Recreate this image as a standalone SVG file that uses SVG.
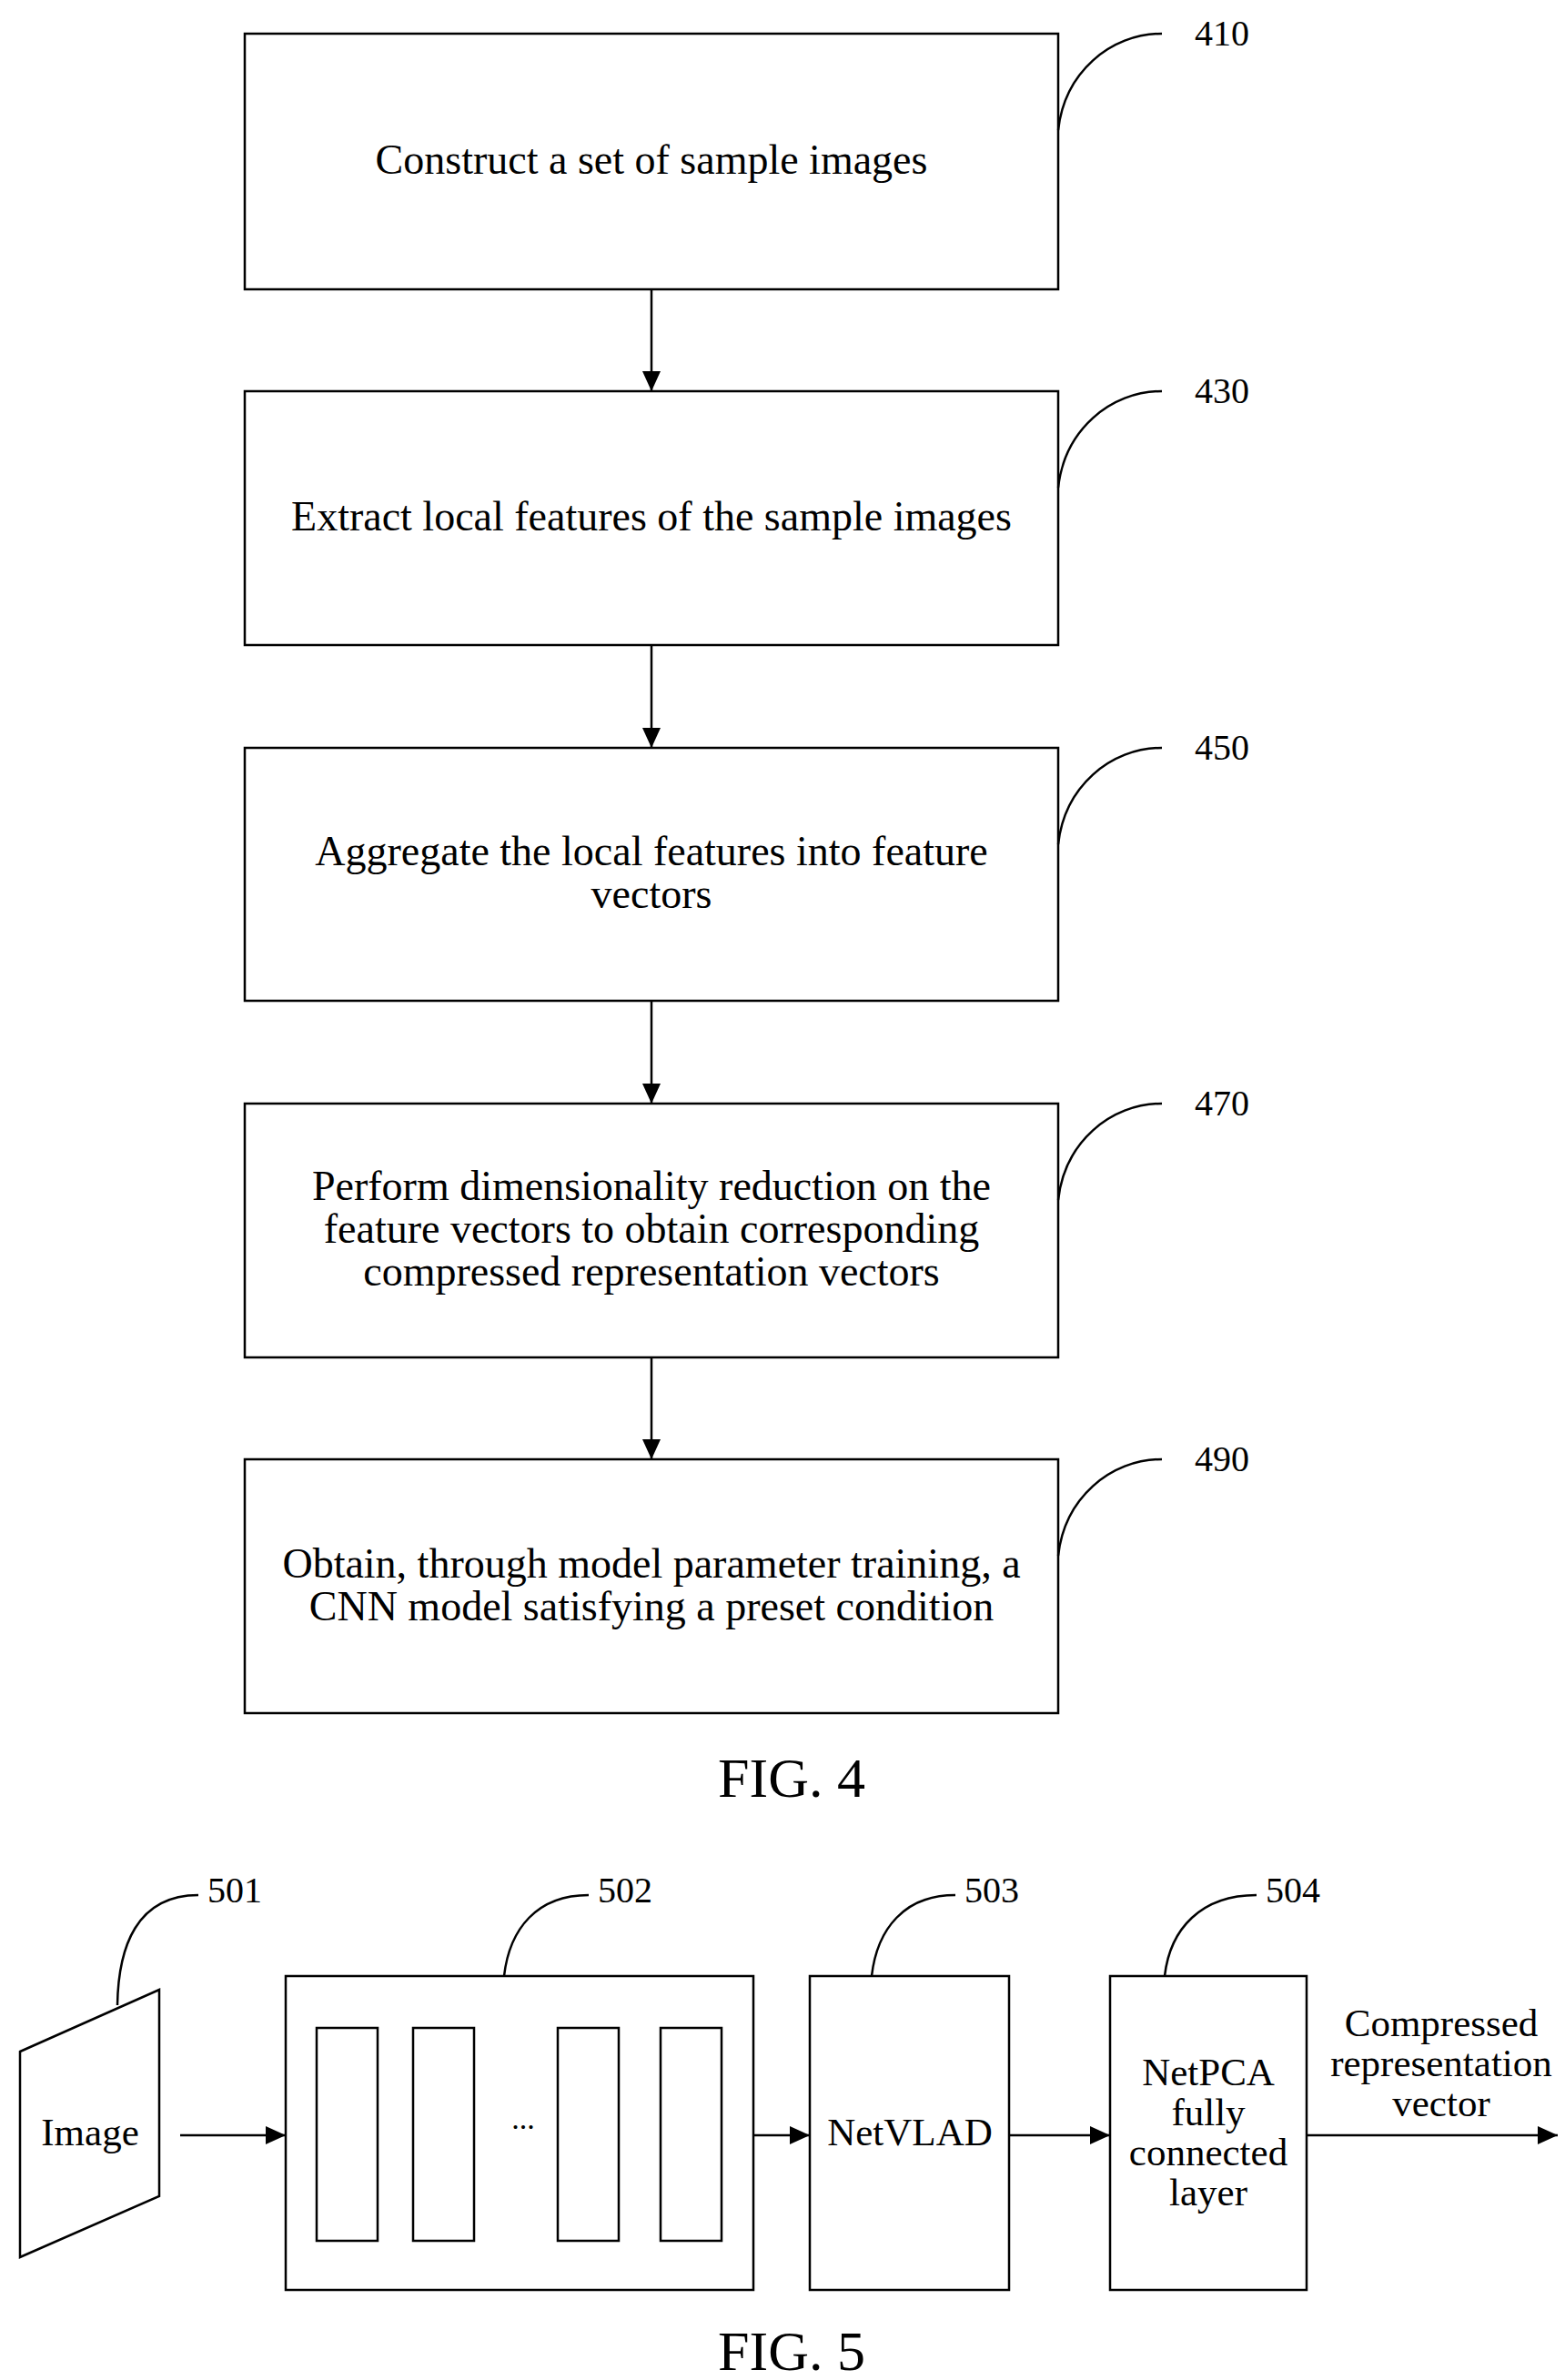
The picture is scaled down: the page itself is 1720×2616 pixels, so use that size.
<svg xmlns="http://www.w3.org/2000/svg" width="1720" height="2616" viewBox="0 0 1720 2616">
<style>
.b{fill:#fff;stroke:#000;stroke-width:2.5}
.l{fill:none;stroke:#000;stroke-width:2.5}
text{font-family:"Liberation Serif",serif;fill:#000;text-anchor:middle;font-size:43px}
.t{font-size:46px}
.n{font-size:40px;text-anchor:start}
.f{font-size:62px}
</style>
<defs><marker id="a2" markerWidth="22" markerHeight="20" refX="22" refY="10" orient="auto" markerUnits="userSpaceOnUse"><path d="M0,0L22,10L0,20z" fill="#000"/></marker></defs>
<rect width="1720" height="2616" fill="#fff"/>
<g id="n410"><rect class="b" x="269" y="37" width="894" height="281"/><text class="t" x="716" y="191">Construct a set of sample images</text><path class="l" d="M1163,143C1170,80 1220,37 1277,37"/><text class="n" x="1313" y="50">410</text></g>
<g id="n430"><rect class="b" x="269" y="430" width="894" height="279"/><text class="t" x="716" y="583">Extract local features of the sample images</text><path class="l" d="M1163,536C1170,473 1220,430 1277,430"/><text class="n" x="1313" y="443">430</text></g>
<g id="n450"><rect class="b" x="269" y="822" width="894" height="278"/><text class="t" x="716" y="951">Aggregate the local features into feature</text><text class="t" x="716" y="998">vectors</text><path class="l" d="M1163,928C1170,865 1220,822 1277,822"/><text class="n" x="1313" y="835">450</text></g>
<g id="n470"><rect class="b" x="269" y="1213" width="894" height="279"/><text class="t" x="716" y="1319">Perform dimensionality reduction on the</text><text class="t" x="716" y="1366">feature vectors to obtain corresponding</text><text class="t" x="716" y="1413">compressed representation vectors</text><path class="l" d="M1163,1319C1170,1256 1220,1213 1277,1213"/><text class="n" x="1313" y="1226">470</text></g>
<g id="n490"><rect class="b" x="269" y="1604" width="894" height="279"/><text class="t" x="716" y="1734">Obtain, through model parameter training, a</text><text class="t" x="716" y="1781">CNN model satisfying a preset condition</text><path class="l" d="M1163,1710C1170,1647 1220,1604 1277,1604"/><text class="n" x="1313" y="1617">490</text></g>
<text class="f" x="870" y="1975">FIG. 4</text>
<g id="n501"><path class="b" d="M22,2255L175,2187L175,2414L22,2481z"/><text x="99" y="2358">Image</text><path class="l" d="M129,2204C130,2140 150,2083 218,2083"/><text class="n" x="228" y="2091">501</text></g>
<g id="n502"><rect class="b" x="314" y="2172" width="514" height="345"/><rect class="b" x="348" y="2229" width="67" height="234"/><rect class="b" x="454" y="2229" width="67" height="234"/><rect class="b" x="613" y="2229" width="67" height="234"/><rect class="b" x="726" y="2229" width="67" height="234"/><text x="575" y="2340" style="font-size:34px">...</text><path class="l" d="M554,2172C560,2120 590,2083 647,2083"/><text class="n" x="657" y="2091">502</text></g>
<g id="n503"><rect class="b" x="890" y="2172" width="219" height="345"/><text x="1000" y="2358">NetVLAD</text><path class="l" d="M958,2172C964,2120 994,2083 1050,2083"/><text class="n" x="1060" y="2091">503</text></g>
<g id="n504"><rect class="b" x="1220" y="2172" width="216" height="345"/><text x="1328" y="2292">NetPCA</text><text x="1328" y="2336">fully</text><text x="1328" y="2380">connected</text><text x="1328" y="2424">layer</text><path class="l" d="M1280,2172C1286,2120 1320,2083 1381,2083"/><text class="n" x="1391" y="2091">504</text></g>
<g id="out"><text x="1584" y="2238">Compressed</text><text x="1584" y="2282">representation</text><text x="1584" y="2326">vector</text></g>
<text class="f" x="870" y="2605">FIG. 5</text>
<g id="connectors">
<line class="l" x1="716" y1="318" x2="716" y2="430" marker-end="url(#a2)"/>
<line class="l" x1="716" y1="709" x2="716" y2="822" marker-end="url(#a2)"/>
<line class="l" x1="716" y1="1100" x2="716" y2="1213" marker-end="url(#a2)"/>
<line class="l" x1="716" y1="1492" x2="716" y2="1604" marker-end="url(#a2)"/>
<line class="l" x1="198" y1="2347" x2="314" y2="2347" marker-end="url(#a2)"/>
<line class="l" x1="828" y1="2347" x2="890" y2="2347" marker-end="url(#a2)"/>
<line class="l" x1="1109" y1="2347" x2="1220" y2="2347" marker-end="url(#a2)"/>
<line class="l" x1="1436" y1="2347" x2="1712" y2="2347" marker-end="url(#a2)"/>
</g>
</svg>
